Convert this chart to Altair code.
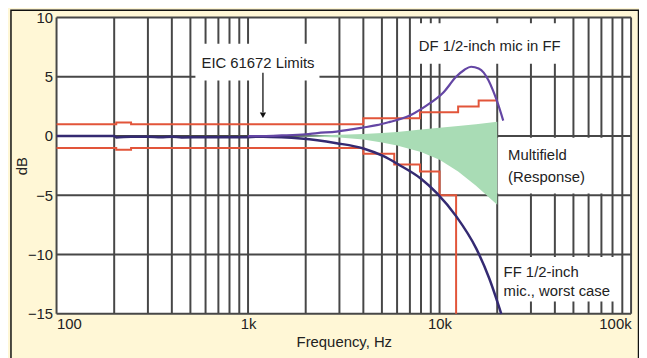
import altair as alt
import pandas as pd

# ---------------- data ----------------
grid_freqs = [100, 200, 300, 400, 500, 600, 700, 800, 900,
              1000, 2000, 3000, 4000, 5000, 6000, 7000, 8000, 9000,
              10000, 20000, 30000, 40000, 50000, 60000, 70000, 80000, 90000, 100000]
grid_db = [-15, -10, -5, 0, 5, 10]
x_ticks = [100, 1000, 10000, 100000]

# IEC 61672 tolerance limits (step lines)
upper_f = [100, 205, 245, 4000, 7900, 12500, 16000, 20000]
upper_db = [1.0, 1.15, 1.0, 1.5, 2.0, 2.5, 3.0, 3.0]
lower_f = [100, 205, 245, 4000, 5800, 7900, 10000, 12200]
lower_db = [-1.0, -1.15, -1.0, -1.5, -2.4, -3.0, -5.0, -15.0]

# DF 1/2-inch mic in FF
df_f = [1000, 1200, 1500, 2000, 2300, 2900, 4000, 4700, 5500, 6700, 8500,
        10500, 12200, 13500, 14600, 16000, 17000, 18000, 19000, 20000, 21500]
df_db = [0.0, 0.0, 0.05, 0.15, 0.25, 0.38, 0.72, 0.92, 1.2, 1.6, 2.55,
         3.7, 5.0, 5.6, 5.85, 5.7, 5.35, 4.7, 3.85, 2.9, 1.3]

# FF 1/2-inch mic, worst case (incl. flat low-frequency part)
ff_f = [100, 200, 205, 245, 300, 350, 400, 450, 600, 900, 1200, 1500, 2300,
        2900, 4000, 5100, 6100, 8000, 9650, 12250, 15550, 18160, 21000]
ff_db = [0.0, 0.0, -0.12, -0.05, -0.05, -0.1, -0.05, -0.12, -0.1, -0.1, -0.05,
         -0.1, -0.35, -0.6, -1.05, -1.7, -2.4, -3.6, -4.8, -6.8, -9.5, -12.0, -15.0]

# Multifield response band
green_f = [1550, 2300, 3000, 4000, 5000, 6000, 8000, 10000, 12500, 15500, 20000]
green_hi = [0.0, 0.05, 0.1, 0.18, 0.25, 0.35, 0.55, 0.7, 0.85, 1.0, 1.2]
green_lo = [0.0, -0.05, -0.12, -0.3, -0.55, -0.8, -1.35, -2.0, -3.0, -4.2, -5.8]

# annotation texts
ann_c_text = ["EIC 61672 Limits", "DF 1/2-inch mic in FF"]
ann_c_f = [1127, 18270]
ann_c_db = [6.2, 7.6]
ann_l_text = ["Multifield", "(Response)", "FF 1/2-inch", "mic., worst case"]
ann_l_f = [22800, 22800, 21600, 21600]
ann_l_db = [-1.6, -3.45, -11.45, -13.05]

# white label boxes hiding the grid
box_f1 = [531, 7420, 20100, 21600]
box_f2 = [2360, 45500, 75100, 86700]
box_db1 = [4.68, 6.1, -4.85, -13.96]
box_db2 = [7.78, 9.53, -0.15, -10.2]

arrow_f = [1196]
arrow_top = [5.35]
arrow_bot = [2.0]
arrow_head = [1.75]

# ---------------- chart ----------------
W, H = 580, 299
FONT = "Liberation Sans"
TXT = "#222222"
GRID = "#474747"
RED = "#e2553a"
DFC = "#6446a4"
FFC = "#342a72"
GREEN = "#a9dcb5"
BEIGE = "#fff7d6"

xs = alt.Scale(type="log", domain=[100, 100000], nice=False)
ys = alt.Scale(domain=[-15, 10], nice=False, zero=False)

xaxis = alt.Axis(values=x_ticks, grid=False, ticks=False, domain=False,
                 labelExpr="datum.value >= 100000 ? '100k' : (datum.value >= 10000 ? '10k' : (datum.value >= 1000 ? '1k' : '100'))",
                 labelFlush=True, labelPadding=3, titleY=28, titleBaseline="middle")
yaxis = alt.Axis(values=grid_db, grid=False, ticks=False, domain=False,
                 labelExpr="datum.value < 0 ? '\u2212' + abs(datum.value) : '' + datum.value",
                 labelPadding=4, titleX=-27)


def X(field):
    return alt.X(field, scale=xs, axis=xaxis, title="Frequency, Hz")


def Y(field):
    return alt.Y(field, scale=ys, axis=yaxis, title="dB")


one = pd.DataFrame({"a": [0]})

frame = alt.Chart(one).mark_rect(fillOpacity=0, stroke="#111111", strokeWidth=1.5).encode(
    x=alt.value(-46), x2=alt.value(587.5), y=alt.value(-7.5), y2=alt.value(345))

vgrid = alt.Chart(pd.DataFrame({"f": grid_freqs})).mark_rule(color=GRID, strokeWidth=2).encode(
    x=X("f:Q"))
hgrid = alt.Chart(pd.DataFrame({"db": grid_db})).mark_rule(color=GRID, strokeWidth=2).encode(
    y=Y("db:Q"))

boxes = alt.Chart(pd.DataFrame({"f1": box_f1, "f2": box_f2, "d1": box_db1, "d2": box_db2})).mark_rect(
    fill="white").encode(x=X("f1:Q"), x2="f2:Q", y=Y("d1:Q"), y2="d2:Q")

green = alt.Chart(pd.DataFrame({"f": green_f, "hi": green_hi, "lo": green_lo})).mark_area(
    color=GREEN, opacity=1).encode(x=X("f:Q"), y=Y("lo:Q"), y2="hi:Q")

upper = alt.Chart(pd.DataFrame({"f": upper_f, "db": upper_db, "i": range(len(upper_f))})).mark_line(
    color=RED, strokeWidth=2, interpolate="step-after").encode(x=X("f:Q"), y=Y("db:Q"), order="i:Q")
lower = alt.Chart(pd.DataFrame({"f": lower_f, "db": lower_db, "i": range(len(lower_f))})).mark_line(
    color=RED, strokeWidth=2, interpolate="step-after").encode(x=X("f:Q"), y=Y("db:Q"), order="i:Q")

ffline = alt.Chart(pd.DataFrame({"f": ff_f, "db": ff_db})).mark_line(
    color=FFC, strokeWidth=2.5, interpolate="monotone").encode(x=X("f:Q"), y=Y("db:Q"))
dfline = alt.Chart(pd.DataFrame({"f": df_f, "db": df_db})).mark_line(
    color=DFC, strokeWidth=2.2, interpolate="monotone").encode(x=X("f:Q"), y=Y("db:Q"))

adf = pd.DataFrame({"f": arrow_f, "t": arrow_top, "b": arrow_bot, "h": arrow_head})
arrow_line = alt.Chart(adf).mark_rule(color="#111111", strokeWidth=1.3).encode(
    x=X("f:Q"), y=Y("t:Q"), y2="b:Q")
arrow_tip = alt.Chart(adf).mark_point(shape="triangle-down", filled=True, color="#111111",
                                       size=40, opacity=1).encode(x=X("f:Q"), y=Y("h:Q"))

txt_c = alt.Chart(pd.DataFrame({"f": ann_c_f, "db": ann_c_db, "t": ann_c_text})).mark_text(
    font=FONT, fontSize=15, color=TXT, align="center", baseline="middle").encode(
    x=X("f:Q"), y=Y("db:Q"), text="t:N")
txt_l = alt.Chart(pd.DataFrame({"f": ann_l_f, "db": ann_l_db, "t": ann_l_text})).mark_text(
    font=FONT, fontSize=15, color=TXT, align="left", baseline="middle").encode(
    x=X("f:Q"), y=Y("db:Q"), text="t:N")

chart = alt.layer(
    frame, vgrid, hgrid, boxes, green, upper, lower, ffline, dfline,
    arrow_line, arrow_tip, txt_c, txt_l
).properties(
    width=W, height=H,
    autosize=alt.AutoSizeParams(type="none"),
    padding={"left": 49, "top": 8, "right": 8, "bottom": 43},
    background=BEIGE,
).configure_view(stroke=None, fill="white").configure_axis(
    labelFont=FONT, labelFontSize=15, labelColor=TXT,
    titleFont=FONT, titleFontSize=15, titleColor=TXT, titleFontWeight="normal",
)

chart.save("out.html", embed_options={"renderer": "svg", "actions": False})
